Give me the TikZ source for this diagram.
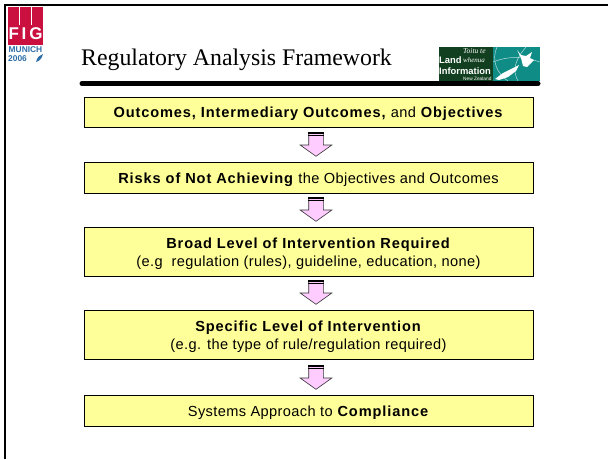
\documentclass[tikz,border=0pt]{standalone}
\usepackage{fontspec}
\setmainfont{Liberation Serif}
\setsansfont{Liberation Sans}
\newfontfamily\boxfont{Liberation Sans}[LetterSpace=2.6,BoldFeatures={LetterSpace=6}]
\usetikzlibrary{shapes.arrows,shadows}
\definecolor{boxyellow}{HTML}{FFFF99}
\definecolor{arrowpink}{HTML}{FFCCFF}
\definecolor{figred}{HTML}{C9103F}
\definecolor{figblue}{HTML}{2F6FA8}
\definecolor{linzgreen}{HTML}{123F1F}
\definecolor{linzteal}{HTML}{0F8C86}
\newcommand{\boxstrut}{\rule{0pt}{15pt}}
\tikzset{
	framebox/.style={draw=black, line width=0.8pt, fill=boxyellow, minimum width=449pt, inner sep=0pt, align=center, font=\boxfont\fontsize{14.6}{18}\selectfont, drop shadow={shadow xshift=0.8pt, shadow yshift=-0.8pt, fill=black!55, opacity=1}},
	flowarrow/.style={shape=single arrow, draw=black!80, fill=arrowpink, line width=0.6pt, rotate=-90, anchor=tail, minimum height=23pt, inner xsep=0pt, inner ysep=7pt, single arrow head extend=8.5pt, single arrow tip angle=109},
	arrowbar/.style={draw=black, line width=1.2pt},
	logotext/.style={inner sep=0pt, text=white, anchor=base west}
}
\begin{document}
\begin{tikzpicture}[x=1pt,y=-1pt]
	\useasboundingbox (0,0) rectangle (608,459);
	\fill[white] (0,0) rectangle (608,459);
	\draw[line width=2.4pt] (5.2,459) -- (5.2,5.2) -- (608,5.2);
	\fill[figred] (8,7) rectangle (43,45);
	\draw[white, line width=0.4pt] (19.5,7) -- (19.5,25);
	\draw[white, line width=0.4pt] (31,7) -- (31,25);
	\node (FIG) at (25.5,33.5) [inner sep=0pt, text=white, font=\sffamily\bfseries\fontsize{17}{17}\selectfont] {F\,I\,G};
	\node (MUNICH) at (25.5,50) [inner sep=0pt, text=figblue, font=\sffamily\bfseries\fontsize{8.4}{8.4}\selectfont] {MUNICH};
	\node (YEAR) at (8,58.5) [inner sep=0pt, anchor=west, text=figblue, font=\sffamily\bfseries\fontsize{8.4}{8.4}\selectfont] {2006};
	\fill[figblue] (36,62) .. controls (37,57) and (40,55) .. (43,54) .. controls (42,58) and (40,61) .. (36,62);
	\node (title) at (81,65) [inner sep=0pt, anchor=base west, font=\fontsize{23.8}{23.8}\selectfont] {Regulatory Analysis Framework};
	\fill[linzgreen] (439,47) rectangle (493,81);
	\fill[linzteal] (493,47) rectangle (540,81);
	\draw[white!70!linzteal, line width=0.5pt] (497,47) .. controls (491,60) and (497,74) .. (508,81);
	\draw[white!70!linzteal, line width=0.5pt] (493,62) .. controls (508,56) and (522,56) .. (540,62);
	\draw[white!70!linzteal, line width=0.5pt] (526,47) .. controls (515,60) and (512,70) .. (518,81);
	\fill[white] (517,50) -- (521,55) -- (526,56) -- (532,52) -- (530,58) -- (534,60) -- (527,67) -- (523,66) -- (521,58) -- cycle;
	\fill[white] (519,65) -- (516,71) -- (508,77) -- (499,80) -- (495,79) -- (503,73) -- (511,69) -- cycle;
	\node (toitu) at (463,53) [logotext, font=\rmfamily\itshape\fontsize{7.5}{7.5}\selectfont] {Toitu te};
	\node (land) at (439,63) [logotext, font=\sffamily\bfseries\fontsize{9.4}{9.4}\selectfont] {Land};
	\node (whenua) at (463,62.5) [logotext, font=\rmfamily\itshape\fontsize{7}{7}\selectfont] {whenua};
	\node (information) at (439,74) [logotext, font=\sffamily\bfseries\fontsize{9.4}{9.4}\selectfont] {Information};
	\node (zealand) at (463,80) [logotext, font=\sffamily\fontsize{4.8}{4.8}\selectfont] {New Zealand};
	\draw[line width=5pt, line cap=round] (82,83.5) -- (538,83.5);
	\node (B1) at (308.5,112) [framebox, minimum height=30pt] {\boxstrut\textbf{Outcomes, Intermediary Outcomes,} and \textbf{Objectives}};
	\node (B2) at (308.5,177.5) [framebox, minimum height=31pt] {\boxstrut\textbf{Risks of Not Achieving} the Objectives and Outcomes};
	\node (B3) at (308.5,251.5) [framebox, minimum height=49pt] {\boxstrut\textbf{Broad Level of Intervention Required}\\(e.g\ \ regulation (rules), guideline, education, none)};
	\node (B4) at (308.5,334.5) [framebox, minimum height=49pt] {\boxstrut\textbf{Specific Level of Intervention}\\(e.g. the type of rule/regulation required)};
	\node (B5) at (308.5,410.5) [framebox, minimum height=31pt] {\boxstrut Systems Approach to \textbf{Compliance}};
	\node (A1) at (316,133) [flowarrow] {};
	\node (A2) at (316,198) [flowarrow] {};
	\node (A3) at (316,281) [flowarrow] {};
	\node (A4) at (316,366) [flowarrow] {};
	\foreach \a in {A1,A2,A3,A4} {
		\draw[arrowbar] (\a.before tail) -- (\a.after tail);
		\draw[arrowbar] ([yshift=-2.6pt]\a.before tail) -- ([yshift=-2.6pt]\a.after tail);
	}
\end{tikzpicture}
\end{document}
